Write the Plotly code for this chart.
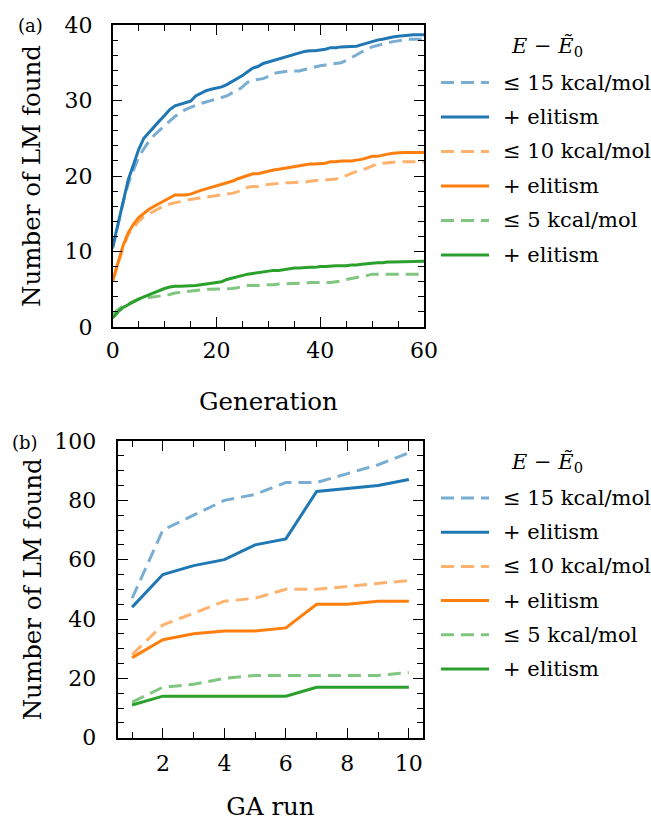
import plotly.graph_objects as go

# ---------------- data ----------------
generation = list(range(61))

gen_15 = [10.4, 13.5, 16.5, 19.0, 20.8, 22.5, 23.6, 24.6, 25.4, 26.0,
          26.6, 27.3, 27.9, 28.3, 28.8, 29.1, 29.4, 29.6, 29.8, 30.0,
          30.1, 30.3, 30.6, 31.0, 31.3, 31.8, 32.4, 32.7, 32.8, 32.9,
          33.2, 33.6, 33.7, 33.8, 33.9, 33.9, 33.9, 34.1, 34.3, 34.4,
          34.6, 34.7, 34.8, 34.9, 35.0, 35.3, 35.7, 36.0, 36.4, 36.8,
          37.1, 37.3, 37.5, 37.7, 37.8, 37.9, 38.0, 38.1, 38.1, 38.1, 38.1]
gen_15_elit = [10.6, 13.7, 16.8, 19.5, 21.5, 23.5, 25.0, 25.8, 26.6, 27.3,
               28.0, 28.8, 29.3, 29.5, 29.7, 29.9, 30.6, 31.0, 31.3, 31.5,
               31.6, 31.8, 32.1, 32.5, 32.8, 33.3, 33.8, 34.3, 34.5, 34.9,
               35.1, 35.3, 35.5, 35.7, 35.9, 36.1, 36.4, 36.5, 36.6, 36.6,
               36.7, 36.8, 37.0, 37.0, 37.1, 37.1, 37.2, 37.2, 37.4, 37.6,
               37.9, 38.0, 38.1, 38.3, 38.4, 38.5, 38.6, 38.7, 38.7, 38.7, 38.7]
gen_10 = [6.1, 8.3, 10.5, 12.3, 13.2, 14.0, 14.6, 15.0, 15.4, 15.8,
          16.1, 16.3, 16.4, 16.6, 16.8, 16.9, 17.0, 17.1, 17.2, 17.3,
          17.4, 17.5, 17.6, 17.7, 17.9, 18.2, 18.5, 18.6, 18.6, 18.8,
          18.9, 19.0, 19.0, 19.1, 19.1, 19.1, 19.2, 19.2, 19.3, 19.4,
          19.4, 19.5, 19.6, 19.6, 19.8, 20.1, 20.4, 20.6, 20.8, 21.0,
          21.3, 21.6, 21.7, 21.8, 21.9, 21.9, 21.9, 21.9, 21.9, 21.9, 21.9]
gen_10_elit = [6.1, 8.5, 10.8, 12.5, 13.6, 14.5, 15.1, 15.6, 16.0, 16.4,
               16.8, 17.2, 17.5, 17.5, 17.5, 17.6, 17.9, 18.1, 18.3, 18.5,
               18.6, 18.8, 19.1, 19.3, 19.6, 19.8, 20.1, 20.3, 20.3, 20.5,
               20.7, 20.8, 20.9, 21.0, 21.1, 21.2, 21.4, 21.5, 21.6, 21.6,
               21.6, 21.7, 21.9, 21.9, 22.0, 22.0, 22.0, 22.1, 22.2, 22.4,
               22.6, 22.6, 22.8, 22.9, 23.0, 23.1, 23.1, 23.1, 23.1, 23.1, 23.1]
gen_5 = [1.6, 2.3, 2.8, 3.1, 3.4, 3.7, 3.8, 3.9, 4.0, 4.1,
         4.2, 4.3, 4.5, 4.6, 4.7, 4.8, 4.9, 4.9, 5.0, 5.0,
         5.0, 5.0, 5.1, 5.1, 5.2, 5.4, 5.5, 5.5, 5.5, 5.6,
         5.6, 5.6, 5.7, 5.7, 5.8, 5.8, 5.8, 5.8, 5.9, 5.9,
         5.9, 5.9, 5.9, 6.0, 6.1, 6.3, 6.4, 6.5, 6.6, 6.8,
         7.0, 7.0, 7.0, 7.0, 7.0, 7.0, 7.0, 7.0, 7.0, 7.0, 7.0]
gen_5_elit = [1.2, 2.0, 2.6, 3.0, 3.3, 3.7, 4.0, 4.3, 4.6, 4.9,
              5.1, 5.3, 5.4, 5.4, 5.4, 5.4, 5.5, 5.6, 5.7, 5.8,
              5.9, 6.0, 6.3, 6.5, 6.7, 6.8, 7.0, 7.1, 7.2, 7.3,
              7.4, 7.5, 7.5, 7.6, 7.7, 7.8, 7.8, 7.9, 7.9, 7.9,
              8.0, 8.0, 8.1, 8.1, 8.1, 8.1, 8.2, 8.2, 8.3, 8.4,
              8.4, 8.5, 8.5, 8.6, 8.6, 8.6, 8.7, 8.7, 8.7, 8.7, 8.7]

ga_run = [1, 2, 3, 4, 5, 6, 7, 8, 9, 10]
run_15 = [47, 70, 75, 80, 82, 86, 86, 89, 92, 96]
run_15_elit = [44, 55, 58, 60, 65, 67, 83, 84, 85, 87]
run_10 = [28, 38, 42, 46, 47, 50, 50, 51, 52, 53]
run_10_elit = [27, 33, 35, 36, 36, 37, 45, 45, 46, 46]
run_5 = [12, 17, 18, 20, 21, 21, 21, 21, 21, 22]
run_5_elit = [11, 14, 14, 14, 14, 14, 17, 17, 17, 17]

labels = ["\u2264 15 kcal/mol", "+ elitism",
          "\u2264 10 kcal/mol", "+ elitism",
          "\u2264 5 kcal/mol", "+ elitism"]
legend_title = "<i>E</i> \u2212 <i>\u1EBC</i><sub>0</sub>"

# ---------------- styles ----------------
colors = ["#79add2", "#1f77b4", "#ffb26e", "#ff7f0e", "#80c680", "#2ca02c"]
dashes = ["13px,7px", "solid", "13px,7px", "solid", "13px,7px", "solid"]
LW = 3
FONT = "DejaVu Serif"
W, H = 651, 822

top_series = [gen_15, gen_15_elit, gen_10, gen_10_elit, gen_5, gen_5_elit]
bot_series = [run_15, run_15_elit, run_10, run_10_elit, run_5, run_5_elit]

fig = go.Figure()
for i, ys in enumerate(top_series):
    fig.add_trace(go.Scatter(x=generation, y=ys, mode="lines", name=labels[i],
                             line=dict(color=colors[i], width=LW, dash=dashes[i]),
                             xaxis="x", yaxis="y", showlegend=False))
for i, ys in enumerate(bot_series):
    fig.add_trace(go.Scatter(x=ga_run, y=ys, mode="lines", name=labels[i],
                             line=dict(color=colors[i], width=LW, dash=dashes[i]),
                             xaxis="x2", yaxis="y2", showlegend=False))


def px_x(p):
    return p / W


def px_y(p):
    return 1 - p / H


tick_font = dict(family=FONT, size=22, color="black")
title_font = dict(family=FONT, size=24.5, color="black")


def axis(rng, dtick, minor_dtick, domain, anchor, title, standoff, label_standoff):
    return dict(
        range=rng, domain=domain, anchor=anchor, dtick=dtick, tick0=0,
        ticks="inside", ticklen=10, tickwidth=1.3, tickcolor="black",
        minor=dict(dtick=minor_dtick, tick0=0, ticks="inside", ticklen=6,
                   tickwidth=1.1, tickcolor="black", showgrid=False),
        showline=True, linewidth=1.5, linecolor="black", mirror="allticks",
        showgrid=False, zeroline=False, tickfont=tick_font,
        ticklabelstandoff=label_standoff, automargin=False,
        title=dict(text=title, font=title_font, standoff=standoff),
    )


fig.update_layout(
    width=W, height=H, margin=dict(l=0, r=0, t=0, b=0, autoexpand=False),
    paper_bgcolor="white", plot_bgcolor="white",
    font=dict(family=FONT, color="black"),
    xaxis=axis([0, 60], 20, 5, [px_x(112.7), px_x(424)], "y",
               "Generation", 31, 3),
    yaxis=axis([0, 40], 10, 2, [px_y(327), px_y(25)], "x",
               "Number of LM found", 17, 14),
    xaxis2=axis([0.55, 10.45], 2, 1, [px_x(118.3), px_x(422.7)], "y2",
                "GA run", 23, 5),
    yaxis2=axis([0, 100], 20, 5, [px_y(737.7), px_y(441)], "x2",
                "Number of LM found", 6, 16),
)

# legends: one per panel, built from the same label/colour/dash lists
legend_font = dict(family=FONT, size=21, color="black")
for title_y, first_y, step in [(47, 82.5, 34.5), (463, 498, 34.2)]:
    fig.add_annotation(x=px_x(547), y=px_y(title_y), xref="paper", yref="paper",
                       text=legend_title, showarrow=False, font=legend_font,
                       xanchor="center", yanchor="middle")
    for i, lab in enumerate(labels):
        yy = px_y(first_y + step * i)
        fig.add_shape(type="line", xref="paper", yref="paper",
                      x0=px_x(441), x1=px_x(489), y0=yy, y1=yy,
                      line=dict(color=colors[i], width=LW, dash=dashes[i]))
        fig.add_annotation(x=px_x(501), y=yy, xref="paper", yref="paper",
                           text=lab, showarrow=False, font=legend_font,
                           xanchor="left", yanchor="middle")

# panel labels
for txt, cx, cy in [("(a)", 30, 26), ("(b)", 25, 442)]:
    fig.add_annotation(x=px_x(cx), y=px_y(cy), xref="paper", yref="paper",
                       text=txt, showarrow=False,
                       font=dict(family=FONT, size=18, color="black"),
                       xanchor="center", yanchor="middle")

fig.write_html("out.html")
